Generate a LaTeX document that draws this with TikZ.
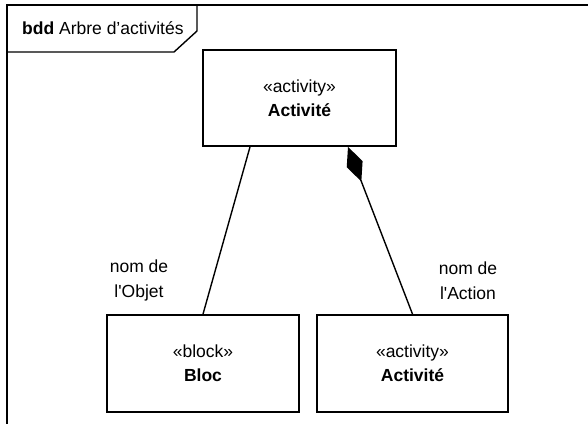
\documentclass[tikz,border=0pt]{standalone}
\usepackage{fontspec}
\setmainfont{Liberation Sans}
\newfontfamily\rawfont{Liberation Sans}
\usetikzlibrary{arrows.meta}
\newcommand{\sq}{{\rawfont '}}
\begin{document}
\begin{tikzpicture}[x=1pt,y=-1pt,
  umlbox/.style={draw=black,line width=1.8pt,minimum width=192pt,minimum height=96pt,align=center,inner sep=0pt,font=\fontsize{17.5}{24}\selectfont},
  lbl/.style={align=center,inner sep=0pt,font=\fontsize{17.5}{25}\selectfont},
  conn/.style={line width=1.4pt}]
\useasboundingbox (0,0) rectangle (588,424);
\draw[line width=1.8pt] (588,5) -- (7,5) -- (7,424);
\draw[line width=1.4pt] (197,5) -- (197,31) -- (174,52) -- (7,52);
\node[anchor=west,inner sep=0pt,font=\fontsize{17.5}{20}\selectfont] (title) at (22,28) {\textbf{bdd} Arbre d’activités};
\node[umlbox,minimum width=193pt] (A) at (299.5,98) {«activity»\\\textbf{Activité}};
\node[umlbox,minimum height=97pt] (B) at (203,363.5) {«block»\\\textbf{Bloc}};
\node[umlbox,minimum width=191pt,minimum height=97pt] (C) at (412.5,363.5) {«activity»\\\textbf{Activité}};
\draw[conn] (B.north) -- ([xshift=-49.5pt]A.south);
\draw[conn,-{Diamond[length=37pt,width=17pt,fill=black]}] (C.north) -- ([xshift=48.5pt]A.south);
\node[lbl] (l1) at (139,280.5) {nom de\\l\sq Objet};
\node[lbl] (l2) at (468,280.5) {nom de\\l\sq Action};
\end{tikzpicture}
\end{document}
